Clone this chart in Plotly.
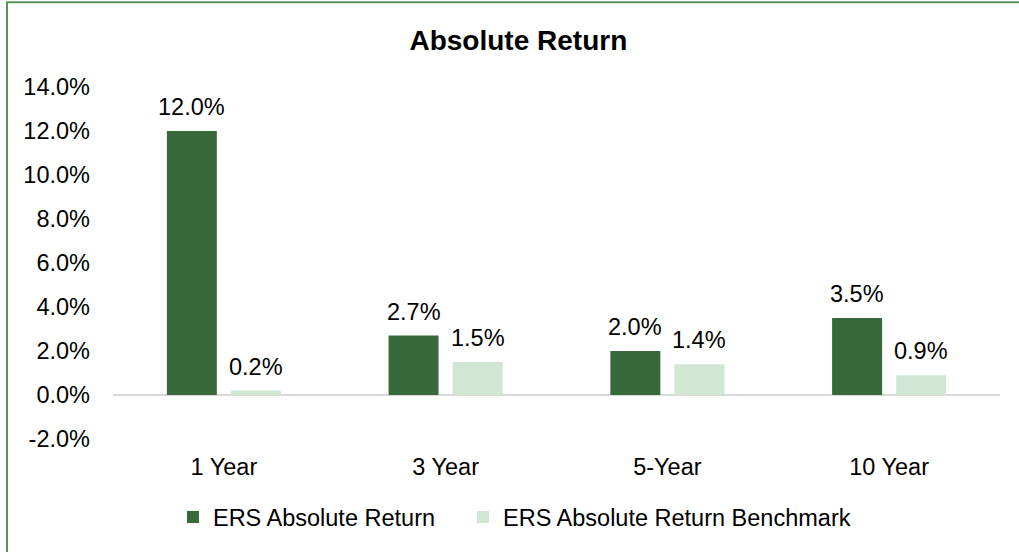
import plotly.graph_objects as go

categories = ["1 Year", "3 Year", "5-Year", "10 Year"]
ers_return = [12.0, 2.7, 2.0, 3.5]
ers_benchmark = [0.2, 1.5, 1.4, 0.9]
series_names = ["ERS Absolute Return", "ERS Absolute Return Benchmark"]
y_ticks = [-2, 0, 2, 4, 6, 8, 10, 12, 14]

DARK = "#38693A"
LIGHT = "#D1E7D3"
FONT = "Liberation Sans, Arial, sans-serif"

fig = go.Figure()
fig.add_trace(go.Bar(x=categories, y=ers_return, name=series_names[0], legend="legend",
                     marker=dict(color=DARK, line=dict(width=0))))
fig.add_trace(go.Bar(x=categories, y=ers_benchmark, name=series_names[1], legend="legend2",
                     marker=dict(color=LIGHT, line=dict(width=0))))

for vals, shift in ((ers_return, -32), (ers_benchmark, 32)):
    for c, v in zip(categories, vals):
        fig.add_annotation(x=c, y=v, xshift=shift, yshift=9, yanchor="bottom",
                           text=f"{v:.1f}%", showarrow=False,
                           font=dict(family=FONT, size=23.5, color="#000000"))

# outer chart border
fig.add_shape(type="rect", xref="paper", yref="paper",
              x0=-0.1195, y0=-0.36, x1=1.1, y1=1.2405,
              line=dict(color="#5A925A", width=2), fillcolor="rgba(0,0,0,0)")

legend_common = dict(orientation="h", xanchor="left", y=-0.222, yanchor="middle",
                     font=dict(family=FONT, size=23.5), itemclick=False,
                     bgcolor="rgba(0,0,0,0)")

fig.update_layout(
    width=1019, height=552,
    margin=dict(l=113, r=19, t=87, b=113),
    paper_bgcolor="white", plot_bgcolor="white",
    font=dict(family=FONT, size=23.5, color="#000000"),
    barmode="group", bargap=0.422, bargroupgap=0.22,
    title=dict(text="<b>Absolute Return</b>", x=0.457, xref="paper", xanchor="center",
               y=1 - 40 / 552, yanchor="middle",
               font=dict(family=FONT, size=28, color="#000000")),
    showlegend=True,
    legend=dict(x=0.0676, **legend_common),
    legend2=dict(x=0.3946, **legend_common),
    xaxis=dict(showgrid=False, showline=False, zeroline=False, ticks="",
               ticklabelstandoff=11, tickfont=dict(size=23.5)),
    yaxis=dict(range=[-2, 14], tickvals=y_ticks,
               ticktext=[f"{t:.1f}%" for t in y_ticks],
               showgrid=False, showline=False, zeroline=True,
               zerolinecolor="#D9D9D9", zerolinewidth=2,
               ticks="", ticklabelstandoff=22, tickfont=dict(size=23.5)),
)

fig.write_html("out.html", config={"displayModeBar": False},
               post_script="document.body.style.margin='0';document.body.style.overflow='hidden';")
